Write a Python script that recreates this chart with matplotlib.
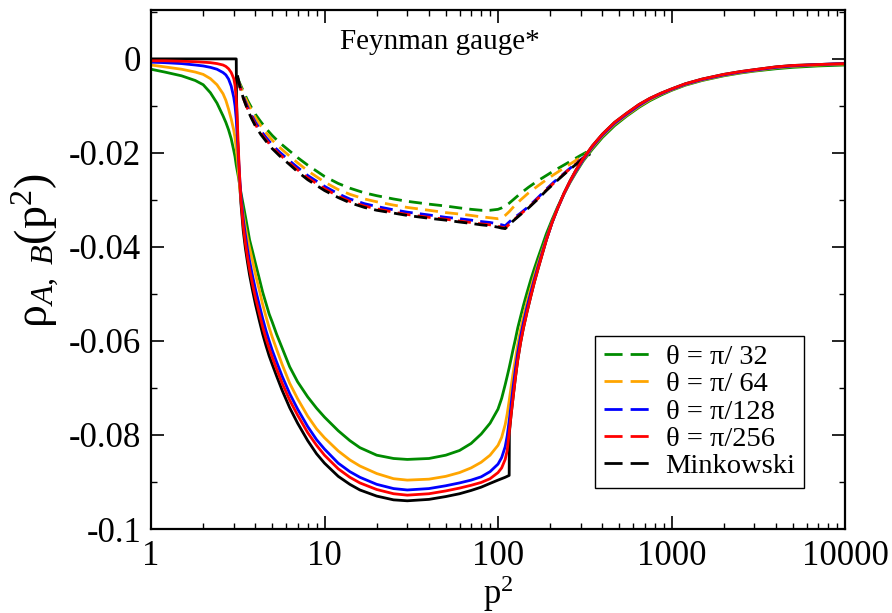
import numpy as np
import matplotlib
matplotlib.use('Agg')
import matplotlib.pyplot as plt
from matplotlib.lines import Line2D
from matplotlib.ticker import MultipleLocator, LogLocator, NullFormatter

plt.rcParams['font.family'] = ['Liberation Serif', 'DejaVu Serif']
plt.rcParams['mathtext.fontset'] = 'custom'
plt.rcParams['mathtext.rm'] = 'Liberation Serif'
plt.rcParams['mathtext.it'] = 'Liberation Serif:italic'

# ---- data ----
labels = ['θ = π/ 32', 'θ = π/ 64', 'θ = π/128', 'θ = π/256', 'Minkowski']
colors = ['#008b00', '#ffa500', '#0000ff', '#ff0000', '#000000']

# solid curves (finite theta)
p2_solid = [1, 1.2, 1.5, 1.8, 2.0, 2.2, 2.4, 2.6, 2.7, 2.8,
            2.9, 3.0, 3.05, 3.1, 3.15, 3.2, 3.25, 3.3, 3.4, 3.5,
            3.6, 3.7, 3.85, 4.0, 4.2, 4.4, 4.6, 4.8, 5.0, 5.3,
            5.7, 6.3, 7, 8, 9, 10, 12, 14, 16, 20,
            25, 30, 40, 50, 60, 70, 80, 90, 100, 105,
            110, 113, 116, 119, 122, 126, 130, 135, 140, 147,
            155, 162, 170, 180, 190, 205, 220, 240, 260, 280,
            310, 350, 400, 470, 550, 650, 750, 870, 1000, 1200,
            1500, 2000, 2500, 3000, 4000, 5000, 7000, 10000]

rho_pi32 = [-0.0022, -0.0028, -0.0036, -0.0046, -0.0055, -0.0072, -0.0094, -0.0121, -0.0135, -0.0151,
            -0.0170, -0.0195, -0.0208, -0.0226, -0.0240, -0.0254, -0.0270, -0.0285, -0.0310, -0.0335,
            -0.0360, -0.0385, -0.0410, -0.0435, -0.0466, -0.0496, -0.0520, -0.0543, -0.0560, -0.0586,
            -0.0615, -0.0655, -0.0687, -0.0719, -0.0743, -0.0762, -0.0791, -0.0812, -0.0827, -0.0843,
            -0.0850, -0.0852, -0.0850, -0.0843, -0.0833, -0.0818, -0.0798, -0.0775, -0.0745, -0.0722,
            -0.0693, -0.0675, -0.0657, -0.0638, -0.0619, -0.0596, -0.0572, -0.0548, -0.0525, -0.0497,
            -0.0468, -0.0446, -0.0423, -0.0397, -0.0372, -0.0342, -0.0316, -0.0287, -0.0263, -0.0243,
            -0.0217, -0.0192, -0.0167, -0.0142, -0.0122, -0.0103, -0.0089, -0.0077, -0.0067, -0.0056,
            -0.0046, -0.0036, -0.0030, -0.0026, -0.0021, -0.0018, -0.0015, -0.0013]

rho_pi64 = [-0.0013, -0.0017, -0.0022, -0.0028, -0.0033, -0.0042, -0.0055, -0.0074, -0.0088, -0.0107,
            -0.0128, -0.0152, -0.0168, -0.0190, -0.0215, -0.0245, -0.0275, -0.0298, -0.0330, -0.0358,
            -0.0382, -0.0402, -0.0430, -0.0458, -0.0490, -0.0522, -0.0548, -0.0572, -0.0592, -0.0618,
            -0.0650, -0.0690, -0.0723, -0.0760, -0.0787, -0.0806, -0.0834, -0.0853, -0.0866, -0.0882,
            -0.0893, -0.0896, -0.0894, -0.0888, -0.0880, -0.0870, -0.0858, -0.0843, -0.0822, -0.0805,
            -0.0778, -0.0755, -0.0727, -0.0698, -0.0670, -0.0638, -0.0607, -0.0575, -0.0549, -0.0517,
            -0.0486, -0.0461, -0.0436, -0.0408, -0.0382, -0.0347, -0.0319, -0.0288, -0.0262, -0.0241,
            -0.0215, -0.0189, -0.0164, -0.0139, -0.0120, -0.0101, -0.0087, -0.0075, -0.0066, -0.0055,
            -0.0045, -0.0035, -0.0029, -0.0025, -0.0019, -0.0016, -0.0013, -0.0011]

rho_pi128 = [-0.0007, -0.0008, -0.0010, -0.0013, -0.0015, -0.0018, -0.0022, -0.0029, -0.0034, -0.0043,
             -0.0058, -0.0082, -0.0100, -0.0128, -0.0170, -0.0215, -0.0258, -0.0292, -0.0340, -0.0375,
             -0.0405, -0.0430, -0.0462, -0.0490, -0.0522, -0.0552, -0.0578, -0.0600, -0.0620, -0.0645,
             -0.0675, -0.0712, -0.0745, -0.0782, -0.0810, -0.0830, -0.0860, -0.0878, -0.0890, -0.0905,
             -0.0914, -0.0917, -0.0914, -0.0908, -0.0902, -0.0896, -0.0889, -0.0878, -0.0862, -0.0848,
             -0.0825, -0.0802, -0.0770, -0.0735, -0.0700, -0.0660, -0.0625, -0.0590, -0.0562, -0.0528,
             -0.0495, -0.0469, -0.0442, -0.0412, -0.0384, -0.0348, -0.0319, -0.0287, -0.0261, -0.0240,
             -0.0214, -0.0187, -0.0162, -0.0137, -0.0118, -0.0099, -0.0085, -0.0074, -0.0065, -0.0054,
             -0.0044, -0.0034, -0.0028, -0.0024, -0.0018, -0.0015, -0.0012, -0.0010]

rho_pi256 = [-0.0004, -0.0004, -0.0005, -0.0006, -0.0007, -0.0008, -0.0010, -0.0013, -0.0016, -0.0021,
             -0.0029, -0.0042, -0.0056, -0.0085, -0.0140, -0.0205, -0.0258, -0.0300, -0.0355, -0.0392,
             -0.0422, -0.0448, -0.0480, -0.0508, -0.0540, -0.0570, -0.0595, -0.0616, -0.0635, -0.0660,
             -0.0690, -0.0726, -0.0758, -0.0795, -0.0822, -0.0843, -0.0872, -0.0890, -0.0902, -0.0916,
             -0.0925, -0.0928, -0.0925, -0.0919, -0.0913, -0.0907, -0.0901, -0.0893, -0.0880, -0.0870,
             -0.0852, -0.0833, -0.0795, -0.0757, -0.0722, -0.0678, -0.0640, -0.0603, -0.0573, -0.0538,
             -0.0503, -0.0475, -0.0447, -0.0415, -0.0385, -0.0348, -0.0319, -0.0286, -0.0260, -0.0238,
             -0.0212, -0.0185, -0.0160, -0.0135, -0.0116, -0.0097, -0.0084, -0.0073, -0.0064, -0.0053,
             -0.0043, -0.0033, -0.0027, -0.0023, -0.0017, -0.0014, -0.0012, -0.0010]

# Minkowski solid curve
p2_mink = [1, 3.1, 3.11, 3.15, 3.2, 3.25, 3.3, 3.4, 3.5, 3.6,
           3.7, 3.85, 4.0, 4.2, 4.4, 4.6, 4.8, 5.0, 5.3, 5.7,
           6.3, 7, 8, 9, 10, 12, 14, 16, 20, 25,
           30, 40, 50, 60, 70, 80, 90, 100, 110, 116,
           116.3, 119, 122, 126, 130, 135, 140, 147, 155, 162,
           170, 180, 190, 205, 220, 240, 260, 280, 310, 350,
           400, 470, 550, 650, 750, 870, 1000, 1200, 1500, 2000,
           2500, 3000, 4000, 5000, 7000, 10000]
rho_mink = [0.0, 0.0, -0.0080, -0.0165, -0.0225, -0.0270, -0.0308, -0.0365, -0.0403, -0.0433,
            -0.0460, -0.0493, -0.0522, -0.0555, -0.0585, -0.0610, -0.0632, -0.0650, -0.0675, -0.0705,
            -0.0742, -0.0775, -0.0812, -0.0840, -0.0860, -0.0888, -0.0905, -0.0917, -0.0930, -0.0938,
            -0.0940, -0.0937, -0.0931, -0.0925, -0.0918, -0.0911, -0.0903, -0.0896, -0.0890, -0.0886,
            -0.0795, -0.0757, -0.0722, -0.0678, -0.0640, -0.0603, -0.0573, -0.0538, -0.0503, -0.0475,
            -0.0447, -0.0415, -0.0385, -0.0348, -0.0319, -0.0286, -0.0260, -0.0238, -0.0212, -0.0185,
            -0.0160, -0.0135, -0.0116, -0.0097, -0.0084, -0.0073, -0.0064, -0.0053, -0.0043, -0.0033,
            -0.0027, -0.0023, -0.0017, -0.0014, -0.0012, -0.0010]

# dashed curves
p2_dash = [3.15, 3.25, 3.4, 3.6, 3.8, 4.0, 4.3, 4.6, 5.0, 5.5,
           6.3, 7, 8, 10, 12, 14, 17, 20, 25, 30,
           40, 50, 60, 70, 80, 90, 100, 105, 110, 116,
           122, 135, 150, 170, 190, 210, 250, 300, 340]

dash_pi32 = [-0.0040, -0.0052, -0.0068, -0.0088, -0.0104, -0.0118, -0.0134, -0.0148, -0.0163, -0.0178,
             -0.0196, -0.0210, -0.0226, -0.0250, -0.0265, -0.0275, -0.0285, -0.0291, -0.0298, -0.0303,
             -0.0309, -0.0313, -0.0317, -0.0320, -0.0322, -0.0322, -0.0320, -0.0317, -0.0313, -0.0307,
             -0.0300, -0.0286, -0.0273, -0.0259, -0.0248, -0.0238, -0.0222, -0.0205, -0.0194]
dash_pi64 = [-0.0042, -0.0055, -0.0073, -0.0093, -0.0110, -0.0125, -0.0143, -0.0157, -0.0173, -0.0188,
             -0.0207, -0.0221, -0.0238, -0.0262, -0.0278, -0.0288, -0.0298, -0.0304, -0.0311, -0.0316,
             -0.0322, -0.0327, -0.0330, -0.0333, -0.0336, -0.0338, -0.0340, -0.0339, -0.0333, -0.0325,
             -0.0316, -0.0300, -0.0285, -0.0270, -0.0257, -0.0246, -0.0228, -0.0209, -0.0196]
dash_pi128 = [-0.0040, -0.0058, -0.0080, -0.0102, -0.0120, -0.0135, -0.0153, -0.0167, -0.0183, -0.0198,
              -0.0217, -0.0231, -0.0248, -0.0271, -0.0287, -0.0298, -0.0308, -0.0314, -0.0321, -0.0326,
              -0.0332, -0.0337, -0.0340, -0.0343, -0.0346, -0.0348, -0.0351, -0.0353, -0.0355, -0.0347,
              -0.0340, -0.0328, -0.0314, -0.0295, -0.0277, -0.0262, -0.0238, -0.0214, -0.0200]
dash_pi256 = [-0.0040, -0.0060, -0.0083, -0.0106, -0.0124, -0.0140, -0.0158, -0.0172, -0.0188, -0.0203,
              -0.0222, -0.0236, -0.0253, -0.0276, -0.0292, -0.0303, -0.0313, -0.0319, -0.0326, -0.0331,
              -0.0337, -0.0341, -0.0345, -0.0348, -0.0351, -0.0353, -0.0356, -0.0358, -0.0360, -0.0352,
              -0.0344, -0.0330, -0.0316, -0.0297, -0.0279, -0.0264, -0.0239, -0.0215, -0.0201]
dash_mink = [-0.0035, -0.0058, -0.0083, -0.0108, -0.0127, -0.0143, -0.0161, -0.0175, -0.0191, -0.0206,
             -0.0225, -0.0240, -0.0257, -0.0280, -0.0295, -0.0306, -0.0316, -0.0322, -0.0328, -0.0333,
             -0.0339, -0.0343, -0.0347, -0.0350, -0.0353, -0.0355, -0.0358, -0.0360, -0.0361, -0.0353,
             -0.0345, -0.0331, -0.0317, -0.0298, -0.0280, -0.0265, -0.0240, -0.0216, -0.0202]

xticks = [1, 10, 100, 1000, 10000]
xticklabels = ['1', '10', '100', '1000', '10000']
yticks = [0, -0.02, -0.04, -0.06, -0.08, -0.1]
yticklabels = ['0', '-0.02', '-0.04', '-0.06', '-0.08', '-0.1']

# ---- figure ----
fig = plt.figure(figsize=(8.92, 6.13), dpi=100)
ax = fig.add_axes([151/892, 1 - 529/613, 694/892, 519/613])

dashed = [dash_pi32, dash_pi64, dash_pi128, dash_pi256, dash_mink]
for ys, c in zip(dashed, colors):
    ax.plot(p2_dash, ys, color=c, lw=2.0, dashes=(4.7, 2.6))

ax.plot(p2_mink, rho_mink, color='black', lw=2.0)
for ys, c in zip([rho_pi32, rho_pi64, rho_pi128, rho_pi256], colors[:4]):
    ax.plot(p2_solid, ys, color=c, lw=2.0)

ax.set_xscale('log')
ax.set_xlim(1, 10000)
ax.set_ylim(-0.1, 0.0104)

ax.set_xticks(xticks)
ax.set_xticklabels(xticklabels)
ax.xaxis.set_minor_locator(LogLocator(base=10, subs=np.arange(2, 10), numticks=20))
ax.xaxis.set_minor_formatter(NullFormatter())
ax.set_yticks(yticks)
ax.set_yticklabels(yticklabels)
ax.yaxis.set_minor_locator(MultipleLocator(0.01))

ax.tick_params(which='both', direction='in', top=True, right=True, labelsize=25)
ax.tick_params(which='major', length=9.5, width=1.2)
ax.tick_params(axis='x', which='major', pad=8)
ax.tick_params(axis='y', which='major', pad=7)
ax.tick_params(which='minor', length=4.5, width=1.0)
for s in ax.spines.values():
    s.set_linewidth(1.6)

ax.set_xlabel(r'$\mathrm{p}^{2}$', fontsize=25)
ax.xaxis.set_label_coords(0.5, -0.086)
ax.set_ylabel(r'$\mathrm{ρ}_{A,\ B}(\mathrm{p}^{2})$', fontsize=33)
ax.yaxis.set_label_coords(-0.128, 0.537)

ax.text(0.416, 0.938, 'Feynman gauge*', transform=ax.transAxes,
        ha='center', va='center', fontsize=21)

handles = [Line2D([], [], color=c, lw=2.0, dashes=(6.5, 2.9)) for c in colors]
leg = ax.legend(handles, labels, loc='lower right', bbox_to_anchor=(0.941, 0.079),
                borderaxespad=0, fontsize=20.5, handlelength=1.58, handletextpad=0.6,
                labelspacing=0.05, borderpad=0.3, fancybox=False, framealpha=1)
leg.get_frame().set_edgecolor('black')
leg.get_frame().set_linewidth(1.0)

fig.savefig('out.png', dpi=100)
